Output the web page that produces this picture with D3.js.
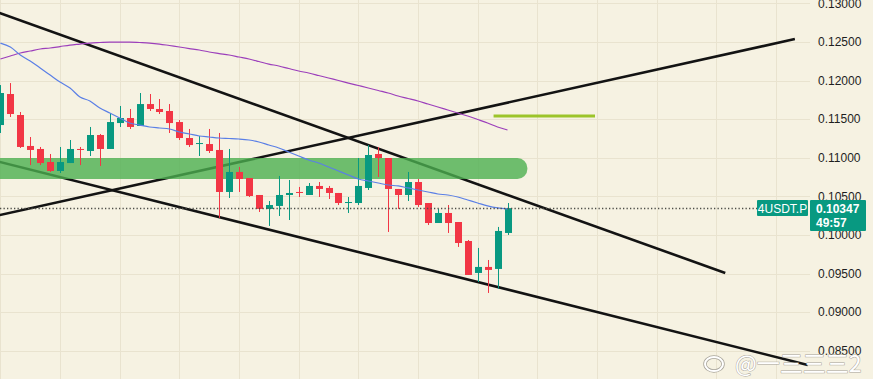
<!DOCTYPE html>
<html>
<head>
<meta charset="utf-8">
<script src="https://cdn.jsdelivr.net/npm/d3@7"></script>
<style>
  html, body { margin: 0; padding: 0; background: #f6f2e2; }
  svg { display: block; }
</style>
</head>
<body>
<script>
// candle data, one entry per bar
const openP  = [0.11423, 0.11825, 0.11553, 0.11152, 0.11113, 0.10944, 0.10828, 0.10931, 0.11113, 0.11087,
                0.11294, 0.11113, 0.11449, 0.11514, 0.11411, 0.11695, 0.11631, 0.11605, 0.11462, 0.11255,
                0.11177, 0.11177, 0.11100, 0.10556, 0.10815, 0.10737, 0.10517, 0.10336, 0.10375, 0.10517,
                0.10556, 0.10517, 0.10634, 0.10608, 0.10543, 0.10413, 0.10413, 0.10608, 0.11048, 0.10996,
                0.10595, 0.10517, 0.10685, 0.10413, 0.10154, 0.10284, 0.10167, 0.09921, 0.09507, 0.09585,
                0.09559, 0.10025];
const highP  = [0.11941, 0.11967, 0.11592, 0.11268, 0.11139, 0.11048, 0.11139, 0.11229, 0.11139, 0.11398,
                0.11307, 0.11579, 0.11670, 0.11631, 0.11838, 0.11825, 0.11760, 0.11695, 0.11488, 0.11372,
                0.11281, 0.11372, 0.11320, 0.11113, 0.10880, 0.10737, 0.10517, 0.10439, 0.10763, 0.10711,
                0.10621, 0.10672, 0.10685, 0.10634, 0.10543, 0.10491, 0.10996, 0.11164, 0.11139, 0.10996,
                0.10595, 0.10815, 0.10724, 0.10413, 0.10336, 0.10387, 0.10167, 0.09934, 0.09831, 0.09675,
                0.10103, 0.10413];
const lowP   = [0.11320, 0.11527, 0.11126, 0.10905, 0.10905, 0.10815, 0.10802, 0.10931, 0.10905, 0.11022,
                0.10893, 0.11113, 0.11398, 0.11372, 0.11411, 0.11605, 0.11566, 0.11320, 0.11229, 0.11139,
                0.11022, 0.11061, 0.10219, 0.10478, 0.10556, 0.10491, 0.10297, 0.10116, 0.10245, 0.10193,
                0.10491, 0.10517, 0.10491, 0.10465, 0.10387, 0.10284, 0.10387, 0.10582, 0.10750, 0.10038,
                0.10336, 0.10439, 0.10362, 0.10128, 0.10154, 0.10025, 0.09844, 0.09481, 0.09390, 0.09248,
                0.09300, 0.09999];
const closeP = [0.11838, 0.11566, 0.11139, 0.11100, 0.10931, 0.10828, 0.10944, 0.11113, 0.11100, 0.11294,
                0.11113, 0.11462, 0.11514, 0.11398, 0.11695, 0.11631, 0.11592, 0.11449, 0.11255, 0.11164,
                0.11190, 0.11087, 0.10556, 0.10815, 0.10724, 0.10504, 0.10336, 0.10387, 0.10517, 0.10543,
                0.10543, 0.10634, 0.10595, 0.10543, 0.10413, 0.10426, 0.10634, 0.11035, 0.10996, 0.10595,
                0.10517, 0.10685, 0.10387, 0.10154, 0.10284, 0.10154, 0.09895, 0.09481, 0.09585, 0.09546,
                0.10051, 0.10347];

// moving averages
const maFast = [0.12485, 0.12434, 0.12330, 0.12252, 0.12162, 0.12071, 0.11980, 0.11903, 0.11786, 0.11734,
                0.11644, 0.11579, 0.11514, 0.11449, 0.11423, 0.11398, 0.11385, 0.11372, 0.11333, 0.11307,
                0.11281, 0.11268, 0.11255, 0.11249, 0.11242, 0.11229, 0.11203, 0.11164, 0.11126, 0.11074,
                0.11022, 0.10970, 0.10931, 0.10880, 0.10828, 0.10776, 0.10724, 0.10698, 0.10672, 0.10646,
                0.10634, 0.10608, 0.10582, 0.10556, 0.10530, 0.10517, 0.10491, 0.10452, 0.10413, 0.10375,
                0.10349, 0.10336];
const maSlow = [0.12278, 0.12317, 0.12356, 0.12382, 0.12408, 0.12421, 0.12440, 0.12459, 0.12472, 0.12485,
                0.12492, 0.12498, 0.12498, 0.12498, 0.12492, 0.12485, 0.12472, 0.12453, 0.12434, 0.12414,
                0.12395, 0.12369, 0.12349, 0.12330, 0.12304, 0.12278, 0.12246, 0.12213, 0.12188, 0.12155,
                0.12123, 0.12097, 0.12065, 0.12032, 0.12000, 0.11967, 0.11935, 0.11903, 0.11870, 0.11838,
                0.11799, 0.11767, 0.11734, 0.11695, 0.11657, 0.11618, 0.11579, 0.11540, 0.11495, 0.11449,
                0.11398, 0.11359];

// drawings: [barIndex, price] end points
const trendLines = [
  [[-2, 0.12964], [72.9, 0.09507]],
  [[-2, 0.11008], [81.2, 0.08315]],
  [[-2, 0.10202], [79.9, 0.12537]]
];
const zone = { from: -5, to: 53, top: 0.10996, bottom: 0.10724 };
const target = { from: 49.6, to: 59.8, price: 0.11540 };

const priceTicks = [0.130, 0.125, 0.120, 0.115, 0.110, 0.105, 0.100, 0.095, 0.090, 0.085];
const timeGrid = [0, 6, 12, 18, 24, 30, 36, 42, 48, 54, 60, 66, 72, 78];
const symbol = '4USDT.P';
const countdown = '49:57';

const WIDTH = 873;
const HEIGHT = 379;
const PLOT_W = 810;

const UP = '#089981';
const DOWN = '#f23645';

const svg = d3.select('body').append('svg')
  .attr('width', WIDTH)
  .attr('height', HEIGHT)
  .style('font-family', '"Liberation Sans", Arial, sans-serif');

svg.append('rect').attr('width', WIDTH).attr('height', HEIGHT).attr('fill', '#f6f2e2');

svg.append('clipPath').attr('id', 'plot')
  .append('rect').attr('width', PLOT_W).attr('height', HEIGHT);

const x = d3.scaleLinear().domain([0, 51]).range([0.4, 507.5]);
const y = d3.scaleLinear().domain([0.085, 0.13]).range([350.7, 3.3]);

const candles = openP.map((o, i) => ({ i, o, h: highP[i], l: lowP[i], c: closeP[i] }));

// grid
const grid = svg.append('g').attr('stroke', '#e9e3cf').attr('stroke-width', 1);
grid.selectAll('.h').data(priceTicks).join('line')
  .attr('x1', 0).attr('x2', PLOT_W)
  .attr('y1', d => Math.round(y(d)) + 0.5).attr('y2', d => Math.round(y(d)) + 0.5);
grid.selectAll('.v').data(timeGrid).join('line')
  .attr('x1', d => Math.round(x(d)) + 0.5).attr('x2', d => Math.round(x(d)) + 0.5)
  .attr('y1', 0).attr('y2', HEIGHT);

const plot = svg.append('g').attr('clip-path', 'url(#plot)');

// trend lines
const seg = d3.line().x(d => x(d[0])).y(d => y(d[1]));
plot.selectAll('.trend').data(trendLines).join('path')
  .attr('d', seg)
  .attr('fill', 'none')
  .attr('stroke', '#131313')
  .attr('stroke-width', 2.6);

// support zone
plot.append('rect')
  .attr('x', x(zone.from))
  .attr('width', x(zone.to) - x(zone.from))
  .attr('y', y(zone.top))
  .attr('height', y(zone.bottom) - y(zone.top))
  .attr('rx', 10)
  .attr('fill', '#4caf50')
  .attr('opacity', 0.8);

// candles
const bw = 7;
const bars = plot.selectAll('.bar').data(candles).join('g')
  .attr('fill', d => d.c >= d.o ? UP : DOWN)
  .attr('stroke', d => d.c >= d.o ? UP : DOWN);
bars.append('line')
  .attr('x1', d => Math.round(x(d.i)) + 0.5).attr('x2', d => Math.round(x(d.i)) + 0.5)
  .attr('y1', d => y(d.h)).attr('y2', d => y(d.l))
  .attr('stroke-width', 1);
bars.append('rect')
  .attr('x', d => Math.round(x(d.i)) + 0.5 - bw / 2)
  .attr('width', bw)
  .attr('y', d => y(Math.max(d.o, d.c)))
  .attr('height', d => Math.max(1, y(Math.min(d.o, d.c)) - y(Math.max(d.o, d.c))))
  .attr('stroke', 'none');

// moving averages
const maLine = d3.line().x((d, i) => x(i)).y(d => y(d)).curve(d3.curveMonotoneX);
plot.append('path').attr('d', maLine(maSlow))
  .attr('fill', 'none').attr('stroke', '#9c3fbb').attr('stroke-width', 1.2);
plot.append('path').attr('d', maLine(maFast))
  .attr('fill', 'none').attr('stroke', '#5a7fe6').attr('stroke-width', 1.2);

// target line
plot.append('line')
  .attr('x1', x(target.from)).attr('x2', x(target.to))
  .attr('y1', y(target.price)).attr('y2', y(target.price))
  .attr('stroke', '#9cc42a').attr('stroke-width', 3);

// last price line
const last = closeP[closeP.length - 1];
const ly = Math.round(y(last)) + 0.5;
svg.append('line')
  .attr('x1', 0).attr('x2', 757)
  .attr('y1', ly).attr('y2', ly)
  .attr('stroke', '#4d4d48').attr('stroke-width', 1.3)
  .attr('stroke-dasharray', '1.3,2.2');

// price axis
const axis = svg.append('g')
  .attr('transform', `translate(${PLOT_W},0)`)
  .call(d3.axisRight(y).tickValues(priceTicks).tickFormat(d3.format('.5f')).tickSize(0).tickPadding(8));
axis.select('.domain').remove();
axis.selectAll('text').attr('font-size', 12).attr('fill', '#1e1e1e')
  .attr('font-family', '"Liberation Sans", Arial, sans-serif');

// price labels
svg.append('rect').attr('x', 757).attr('y', ly - 8.5).attr('width', 51).attr('height', 16)
  .attr('fill', UP).attr('rx', 1);
svg.append('text').attr('x', 782.5).attr('y', ly + 4).attr('text-anchor', 'middle')
  .attr('font-size', 12).attr('fill', '#fff').text(symbol);
svg.append('rect').attr('x', 810).attr('y', ly - 8.5).attr('width', 56).attr('height', 31)
  .attr('fill', UP).attr('rx', 1);
svg.append('text').attr('x', 816).attr('y', ly + 4).attr('font-size', 12)
  .attr('font-weight', 'bold').attr('fill', '#fff').text(d3.format('.5f')(last));
svg.append('text').attr('x', 816).attr('y', ly + 18).attr('font-size', 12)
  .attr('font-weight', 'bold').attr('fill', '#fff').text(countdown);

// watermark
const wm = svg.append('g');
wm.append('ellipse').attr('cx', 714).attr('cy', 364).attr('rx', 9).attr('ry', 7)
  .attr('fill', 'none').attr('stroke', '#a8a49a').attr('stroke-width', 3.5);
wm.append('ellipse').attr('cx', 714).attr('cy', 364).attr('rx', 9).attr('ry', 7)
  .attr('fill', 'none').attr('stroke', '#ffffff').attr('stroke-width', 2);
wm.append('text').attr('x', 735).attr('y', 372)
  .attr('font-size', 23)
  .attr('font-family', '"Noto Sans CJK SC", "Noto Sans", sans-serif')
  .attr('fill', '#ffffff').attr('stroke', '#a8a49a').attr('stroke-width', 1)
  .attr('paint-order', 'stroke')
  .text('@一三三三2');
</script>
</body>
</html>
